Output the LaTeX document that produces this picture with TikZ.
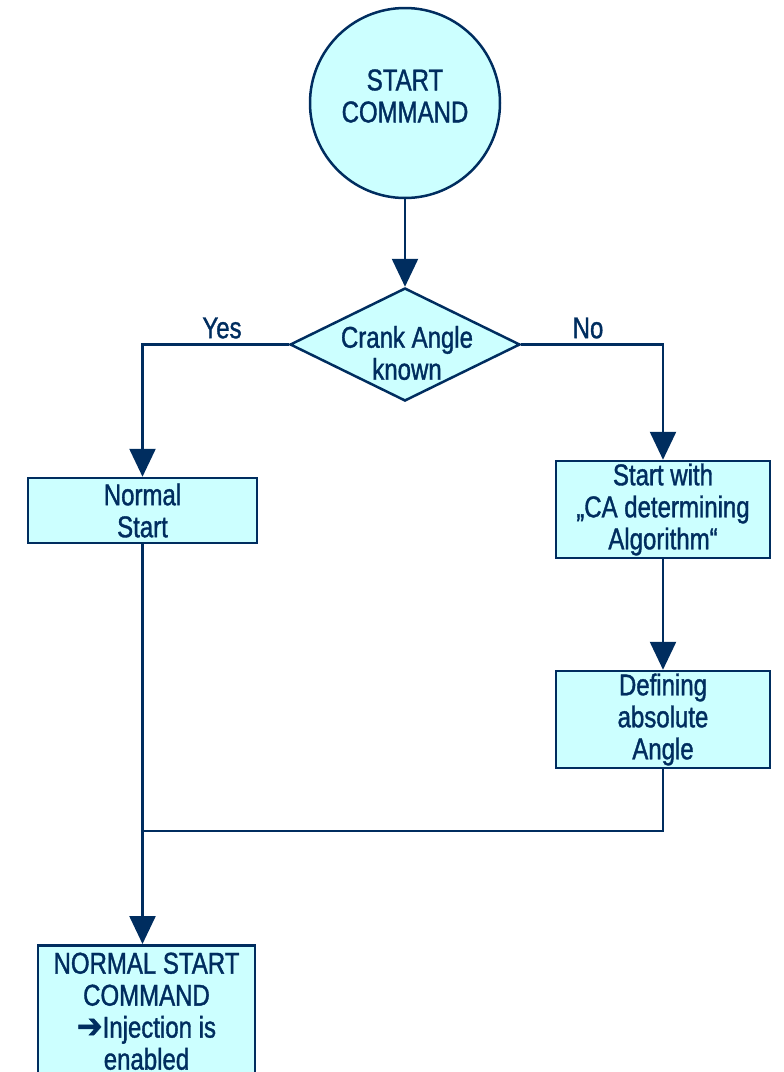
\documentclass[tikz,border=0pt]{standalone}
\usepackage{fontspec}
\setmainfont{Liberation Sans}[FakeStretch=0.8,FakeBold=1.2]
\newfontfamily\symfont{DejaVu Sans}[FakeStretch=0.9,FakeBold=1.5]
\usetikzlibrary{shapes.geometric,arrows.meta}
\definecolor{navy}{RGB}{0,45,95}
\definecolor{paleCyan}{RGB}{204,255,255}
\begin{document}
\begin{tikzpicture}
  [x=0.5pt,y=-0.5pt,line width=1.25pt,color=navy,
   every node/.style={font=\fontsize{15}{16}\selectfont,align=center,text=navy},
   box/.style={rectangle,draw,fill=paleCyan,inner sep=0pt},
   flow/.style={-{Triangle[width=13pt,length=14pt]}}]
\useasboundingbox (0,0) rectangle (783,1072);
\node (start)[circle,draw,fill=paleCyan,minimum size=95pt] at (405,103) {};
  \node (startText) at (405,96) {START\\COMMAND};
  \node (known)[diamond,draw,fill=paleCyan,minimum width=115pt,minimum height=56.5pt,inner sep=0pt] at (405,344.5) {};
  \node (knownText) at (407,353) {Crank Angle\\known};
  \node (normal)[box,minimum width=114.5pt,minimum height=32.5pt] at (142.5,510.5) {Normal\\Start};
  \node (algo)[box,minimum width=107pt,minimum height=48.5pt] at (663,509.5) {Start with\\„CA determining\\Algorithm“};
  \node (absolute)[box,minimum width=107pt,minimum height=48.5pt] at (663,719.5) {Defining\\absolute\\Angle};
  \node (final)[box,minimum width=108.5pt,minimum height=66pt,anchor=north] at (146.5,944) {NORMAL START\\COMMAND\\{\symfont\fontsize{17}{16}\selectfont ➔}Injection is\\enabled};
  \node (yes) at (222,328) {Yes};
  \node (no) at (588,328) {No};
  \coordinate (merge) at (143,831);
 \draw[flow] (start) -- (known);
 \draw[flow] (known.west) -| (normal);
 \draw[flow] (known.east) -| (algo);
 \draw[flow] (algo) -- (absolute);
 \draw (absolute) |- (merge);
 \draw[flow] (normal.south) -- (normal.south |- final.north);
\end{tikzpicture}
\end{document}
